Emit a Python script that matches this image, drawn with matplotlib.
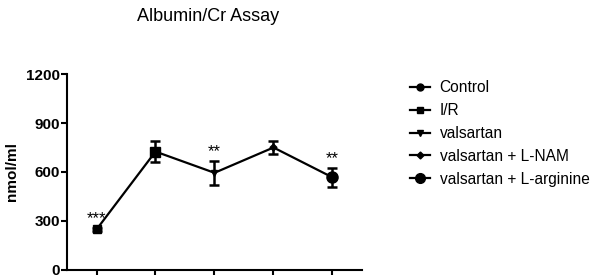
import matplotlib
matplotlib.use('Agg')
from matplotlib import pyplot as plt
from matplotlib.lines import Line2D

plt.rcParams['font.family'] = ['Liberation Sans', 'DejaVu Sans']

groups = ['Control', 'I/R', 'valsartan', 'valsartan + L-NAM', 'valsartan + L-arginine']
values = [248, 725, 595, 750, 567]
errors = [8, 65, 72, 42, 60]
stars = ['***', '', '**', '', '**']
markers = ['s', 's', 'v', 'D', 'o']
msizes = [5.5, 6.5, 5, 3.5, 8]

# legend markers (as in the original legend)
leg_markers = ['o', 's', 'v', 'D', 'o']
leg_sizes = [5, 5, 5, 3.5, 7]

fig = plt.figure(figsize=(5.94, 2.75), dpi=100)
ax = fig.add_axes([0.1128, 0.0182, 0.4966, 0.7127])

x = list(range(1, len(values) + 1))
ax.plot(x, values, color='black', lw=1.6, zorder=2)
ax.errorbar(x, values, yerr=errors, fmt='none', ecolor='black',
            elinewidth=1.8, capsize=3.5, capthick=1.8, zorder=3)
for xi, v, m, s in zip(x, values, markers, msizes):
    ax.plot(xi, v, marker=m, ms=s, color='black', zorder=4)

for xi, v, e, st in zip(x, values, errors, stars):
    if st:
        ax.text(xi, v + e + 10, st, ha='center', va='bottom', fontsize=12)

ax.set_xlim(0.5, 5.5)
ax.set_ylim(0, 1200)
ax.set_yticks([0, 300, 600, 900, 1200])
ax.set_xticks(x)
ax.set_xticklabels([])
for lab in ax.get_yticklabels():
    lab.set_fontweight('bold')
ax.tick_params(axis='y', direction='out', length=4, width=1.5, labelsize=11, pad=1)
ax.tick_params(axis='x', direction='out', length=6, width=1.5)
ax.spines['top'].set_visible(False)
ax.spines['right'].set_visible(False)
ax.spines['left'].set_linewidth(1.5)
ax.spines['bottom'].set_linewidth(1.5)
ax.set_ylabel('nmol/ml', fontsize=11, fontweight='bold', labelpad=5)

fig.text(0.35, 0.94, 'Albumin/Cr Assay', ha='center', va='center', fontsize=13)

handles = [Line2D([0], [0], color='black', lw=1.6, marker=m, ms=s)
           for m, s in zip(leg_markers, leg_sizes)]
fig.legend(handles, groups, loc='upper left', bbox_to_anchor=(0.68, 0.73),
           frameon=False, fontsize=11.2, handlelength=1.3, handletextpad=0.6,
           labelspacing=0.5, borderaxespad=0)

fig.savefig('out.png', dpi=100)
